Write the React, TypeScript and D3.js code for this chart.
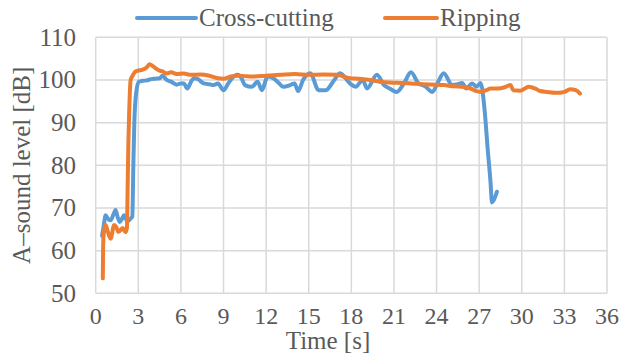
import React from "react";
import * as d3 from "d3";

const crossT = [0.45,0.55,0.7,0.85,1.05,1.25,1.4,1.55,1.7,1.85,2.0,2.18,2.3,2.45,2.58,2.65,2.72,2.85,3.05,3.3,3.6,3.9,4.2,4.5,4.7,5.0,5.3,5.7,6.0,6.2,6.45,6.7,6.9,7.2,7.6,8.0,8.3,8.6,9.0,9.3,9.5,10.0,10.3,10.5,11.0,11.4,11.7,12.1,12.5,12.8,13.2,13.7,14.0,14.25,14.6,15.1,15.7,16.2,16.8,17.2,17.9,18.3,18.8,19.1,19.8,20.3,20.7,21.2,21.7,22.2,22.7,23.2,23.7,24.1,24.5,25.1,25.5,25.8,26.1,26.5,26.8,27.1,27.4,27.6,27.8,27.9,28.05,28.25];
const crossV = [63.5,65.5,68.3,67.5,67.1,68.5,69.5,67.8,66.7,67.5,68.3,67.1,67.0,67.5,68.0,80,90,97,99.6,99.8,99.9,100.2,100.3,100.4,101.0,100.0,99.6,98.9,99.2,99.2,98.0,99.5,100.4,100.2,99.2,99.0,98.8,99.2,97.6,99.0,100.0,101.2,100.2,98.8,98.4,99.6,97.6,100.8,100.4,99.6,98.4,98.8,99.2,97.4,100.0,101.6,97.6,97.6,100.0,101.6,99.2,98.4,100.0,98.0,101.2,98.8,98.0,97.2,99.2,101.8,99.3,98.5,97.2,99.5,101.6,98.8,99.0,99.3,98.0,99.2,98.4,99.3,92.3,83.8,76.0,71.3,72.0,73.8];

const ripT = [0.5,0.52,0.55,0.7,0.85,1.05,1.3,1.45,1.6,1.9,2.1,2.2,2.25,2.3,2.35,2.46,2.6,2.8,3.0,3.3,3.6,3.8,4.0,4.2,4.5,4.7,5.0,5.3,5.7,6.2,6.7,7.4,8.0,8.6,9.0,9.5,10.0,10.5,11.0,12.0,13.0,14.0,15.0,16.0,17.0,17.9,18.5,19.3,20.0,20.7,21.5,22.2,23.0,24.0,24.5,25.2,25.8,26.4,26.8,27.07,27.5,27.8,28.3,28.8,29.2,29.4,29.9,30.5,31.0,31.3,31.8,32.3,32.7,33.0,33.4,33.8,34.1];
const ripV = [53.5,60,63.4,66.0,64.5,62.8,66.0,65.5,64.4,65.3,64.3,65.3,75,85,91.5,100.0,101.0,102.0,102.2,102.4,103.0,103.7,103.3,102.8,102.2,102.0,101.5,101.8,101.4,101.5,101.2,101.3,101.0,100.4,100.3,100.8,101.0,100.9,100.8,101.0,101.2,101.4,101.2,101.3,101.2,100.4,100.3,100.0,99.6,99.4,99.3,99.2,99.0,98.9,98.8,98.5,98.4,98.0,97.4,97.2,97.6,98.0,98.0,98.3,98.8,97.6,97.5,98.4,97.9,97.4,97.2,97.0,97.0,97.2,97.8,97.6,96.8];

const xTicks = [0,3,6,9,12,15,18,21,24,27,30,33,36];
const yTicks = [50,60,70,80,90,100,110];
const seriesNames = ["Cross-cutting", "Ripping"];
const colors = ["#5B9BD5", "#ED7D31"];

export default function App() {
  const W = 622, H = 353;
  const left = 95.7, right = 607, top = 37.3, bottom = 293.3;
  const x = d3.scaleLinear().domain([0, 36]).range([left, right]);
  const y = d3.scaleLinear().domain([50, 110]).range([bottom, top]);
  const line = d3.line<[number, number]>().x(d => x(d[0])).y(d => y(d[1])).curve(d3.curveMonotoneX);
  const cross = crossT.map((t, i) => [t, crossV[i]] as [number, number]);
  const rip = ripT.map((t, i) => [t, ripV[i]] as [number, number]);
  const ff = "Liberation Serif, Times New Roman, DejaVu Serif, serif";
  const fs = 25;
  const txt = "#595959";
  return (
    <svg width={W} height={H} style={{ position: "absolute", left: 0, top: 0 }}>
      <rect width={W} height={H} fill="#fff" />
      {xTicks.map(t => (
        <line key={"gx" + t} x1={x(t)} x2={x(t)} y1={top} y2={bottom} stroke="#D9D9D9" strokeWidth={1.5} />
      ))}
      {yTicks.map(v => (
        <line key={"gy" + v} x1={left} x2={right} y1={y(v)} y2={y(v)} stroke="#D9D9D9" strokeWidth={1.5} />
      ))}
      {yTicks.map(v => (
        <text key={"ty" + v} x={76} y={y(v) + 8.5} textAnchor="end" fontFamily={ff} fontSize={fs} fill={txt}>{v}</text>
      ))}
      {xTicks.map(t => (
        <text key={"tx" + t} x={x(t)} y={324} textAnchor="middle" fontFamily={ff} fontSize={24} fill={txt}>{t}</text>
      ))}
      <path d={line(cross) || ""} fill="none" stroke={colors[0]} strokeWidth={4} strokeLinejoin="round" strokeLinecap="round" />
      <path d={line(rip) || ""} fill="none" stroke={colors[1]} strokeWidth={4} strokeLinejoin="round" strokeLinecap="round" />
      <text x={328} y={349} textAnchor="middle" fontFamily={ff} fontSize={fs} fill={txt}>Time [s]</text>
      <text transform={`translate(30,${(top + bottom) / 2}) rotate(-90)`} textAnchor="middle" fontFamily={ff} fontSize={fs} fill={txt}>A–sound level [dB]</text>
      <line x1={137} x2={196} y1={18} y2={18} stroke={colors[0]} strokeWidth={4} strokeLinecap="round" />
      <text x={199} y={26} fontFamily={ff} fontSize={fs} fill={txt}>{seriesNames[0]}</text>
      <line x1={385} x2={437} y1={18} y2={18} stroke={colors[1]} strokeWidth={4} strokeLinecap="round" />
      <text x={440} y={26} fontFamily={ff} fontSize={fs} fill={txt}>{seriesNames[1]}</text>
    </svg>
  );
}
